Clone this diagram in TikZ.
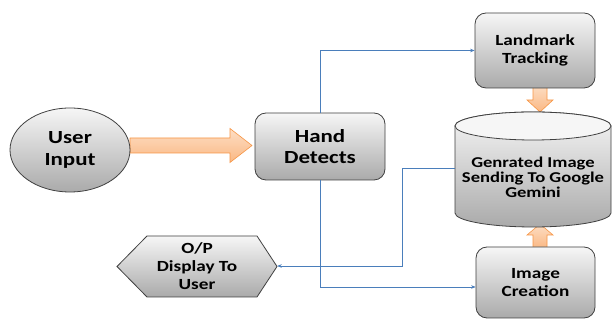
\documentclass[tikz,border=0pt]{standalone}
\usepackage{fontspec}
\setmainfont{Carlito}[FakeStretch=1.24]
\usetikzlibrary{calc,arrows.meta,shapes.geometric}
\definecolor{gfTop}{RGB}{246,246,246}
\definecolor{gfBot}{RGB}{170,170,170}
\definecolor{gEdge}{RGB}{64,64,64}
\definecolor{flowBlue}{RGB}{74,126,187}
\definecolor{oTop}{RGB}{253,222,196}
\definecolor{oBot}{RGB}{250,184,132}
\definecolor{oEdge}{RGB}{247,150,70}
\begin{document}
\begin{tikzpicture}[x=1pt,y=1pt,
  grayfill/.style={top color=gfTop, bottom color=gfBot, draw=gEdge, line width=0.8pt},
  box/.style={grayfill, rounded corners=11pt, align=center, inner sep=0pt},
  plain/.style={align=center, inner sep=0pt},
  flow/.style={draw=flowBlue, line width=0.6pt, -{Stealth[length=4.5pt,width=3.5pt]}},
  bigarrow/.style={top color=oTop, bottom color=oBot, draw=oEdge, line width=0.6pt},
  fbig/.style={font=\bfseries\fontsize{18.5}{21.5}\selectfont},
  fmid/.style={font=\bfseries\fontsize{15.5}{18}\selectfont},
  fsmall/.style={font=\bfseries\fontsize{15}{15}\selectfont}]
\useasboundingbox (0,0) rectangle (612,320);
\fill[white] (0,0) rectangle (612,320);

% orange block arrows (drawn first, nodes overlay their ends)
\draw[bigarrow] (130,182) -- (230,182) -- (230,191.5) -- (252,174.5) -- (230,157.5) -- (230,167) -- (130,167) -- cycle;
\draw[bigarrow] (533,235) -- (547,235) -- (547,220) -- (553,220) -- (540,208) -- (527,220) -- (533,220) -- cycle;
\draw[bigarrow] (533,72) -- (547,72) -- (547,85) -- (553,85) -- (540,96) -- (527,85) -- (533,85) -- cycle;

% cylinder body
\path[grayfill] (455,194) -- (455,107) arc[start angle=180, end angle=360, x radius=78, y radius=14] -- (611,194) arc[start angle=0, end angle=180, x radius=78, y radius=14] -- cycle;
\draw[gEdge, line width=0.8pt, fill=gfTop] (533,194) ellipse [x radius=78, y radius=14];
\node[minimum width=156pt, minimum height=115pt, inner sep=0pt] (cyl) at (533,150.5) {};
\node[plain, fsmall] (cyltxt) at (533,143) {Genrated Image\\Sending To Google\\Gemini};

% hexagon
\path[grayfill] (117,53.5) -- (147,84) -- (257,84) -- (277,53.5) -- (257,23) -- (147,23) -- cycle;
\node[plain, fmid, minimum width=160pt, minimum height=61pt] (op) at (197,54) {O/P\\Display To\\User};

% main nodes
\node[ellipse, grayfill, inner sep=0pt, minimum width=120pt, minimum height=84pt, align=center, fbig] (ui) at (70,170) {User\\Input};
\node[box, fbig, minimum width=130pt, minimum height=67pt] (hd) at (320,173.5) {Hand\\Detects};
\node[box, fmid, minimum width=120pt, minimum height=75pt] (lt) at (535,269.5) {Landmark\\Tracking};
\node[box, fmid, minimum width=119pt, minimum height=71pt] (ic) at (535.5,37.5) {Image\\Creation};

% blue connectors
\draw[flow] (hd.north) |- (lt.west);
\draw[flow] (hd.south) |- ($(ic.west)+(0,-4.5)$);
\draw[flow] ($(cyl.west)+(0,1.5)$) -- (402,152) |- (op.east);
\end{tikzpicture}
\end{document}
